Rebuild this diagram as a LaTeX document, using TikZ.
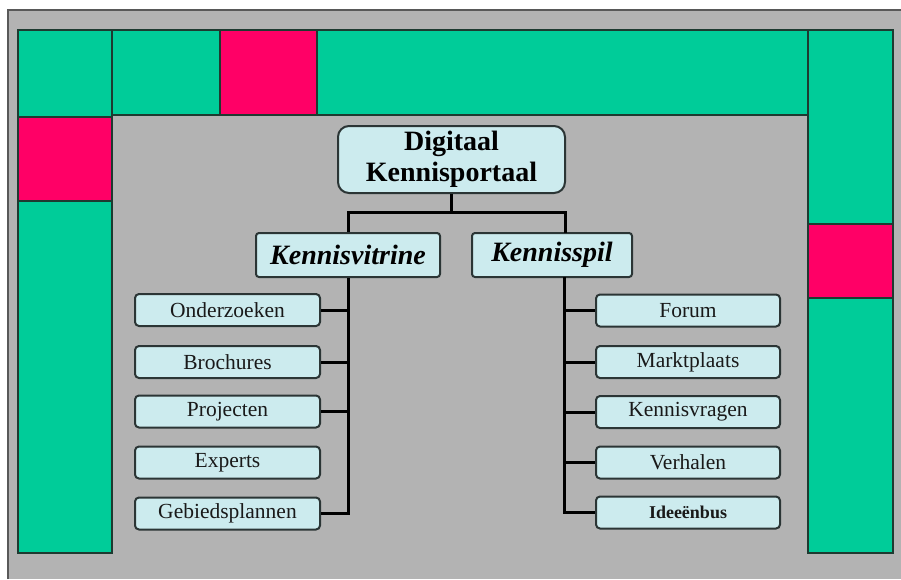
\documentclass[tikz,border=0pt]{standalone}
\usepackage{fontspec}
\setmainfont{Liberation Serif}
\definecolor{bggray}{HTML}{B3B3B3}
\definecolor{tgreen}{HTML}{00CC99}
\definecolor{tpink}{HTML}{FF0066}
\definecolor{boxfill}{HTML}{CCEBEE}
\definecolor{boxline}{HTML}{2B3535}
\definecolor{panelline}{HTML}{1E3A30}
\begin{document}
\begin{tikzpicture}[x=1pt,y=-1pt,
  panel/.style={draw=panelline,line width=1.4pt},
  leaf/.style={draw=boxline,fill=boxfill,line width=2pt,rounded corners=4pt,
    minimum height=32pt,inner sep=0pt,font=\fontsize{21.5}{23}\selectfont,text=black!90},
  lleaf/.style={leaf,minimum width=185pt},
  rleaf/.style={leaf,minimum width=184pt},
  mid/.style={draw=boxline,fill=boxfill,line width=2pt,rounded corners=3pt,
    minimum height=44pt,inner sep=0pt,font=\fontsize{28}{30}\selectfont\bfseries\itshape},
  conn/.style={draw=black,line width=3pt}]
\useasboundingbox (0,0) rectangle (901,579);
% background
\fill[white] (0,0) rectangle (901,579);
\fill[bggray] (8,10) rectangle (901,579);
\draw[black!65,line width=2pt] (8,579) -- (8,10) -- (901,10);
% panels
\fill[tgreen] (18,30) rectangle (112,553);
\fill[tpink] (18,117) rectangle (112,201);
\draw[panel] (18,30) rectangle (112,553);
\draw[panel] (18,117) -- (112,117) (18,201) -- (112,201);
\fill[tgreen] (112,30) rectangle (808,115);
\fill[tpink] (220,30) rectangle (317,115);
\draw[panel] (112,30) rectangle (808,115);
\draw[panel] (220,30) -- (220,115) (317,30) -- (317,115);
\fill[tgreen] (808,30) rectangle (893,553);
\fill[tpink] (808,224) rectangle (893,298);
\draw[panel] (808,30) rectangle (893,553);
\draw[panel] (808,224) -- (893,224) (808,298) -- (893,298);
% nodes
\node[draw=boxline,fill=boxfill,line width=2pt,rounded corners=11pt,
  minimum width=227pt,minimum height=67pt,inner sep=0pt,align=center,
  font=\fontsize{28}{31}\selectfont\bfseries] (title) at (451.5,159.5) {Digitaal\\Kennisportaal};
\node[mid,minimum width=184pt] (kv) at (348,255) {Kennisvitrine};
\node[mid,minimum width=160pt] (ks) at (552,255) {Kennisspil};
\node[lleaf] (on) at (227.5,310) {Onderzoeken};
\node[lleaf] (br) at (227.5,362) {Brochures};
\node[lleaf] (pr) at (227.5,411.5) {Projecten};
\node[lleaf] (ex) at (227.5,462.5) {Experts};
\node[lleaf] (gp) at (227.5,513.5) {Gebiedsplannen};
\node[rleaf] (fo) at (688,310.5) {Forum};
\node[rleaf] (mp) at (688,362) {Marktplaats};
\node[rleaf] (kq) at (688,412) {Kennisvragen};
\node[rleaf] (vh) at (688,462.5) {Verhalen};
\node[rleaf,font=\fontsize{18}{20}\selectfont\bfseries] (ib) at (688,512.5) {Ideeënbus};
% connectors
\coordinate (jt) at (451.5,212);
\coordinate (ksin) at (565,233);
\coordinate (ksout) at (564,277);
\draw[conn] (title.south) -- (jt);
\draw[conn] (kv.north) |- (jt) -| (ksin);
\draw[conn] (kv.south) |- (gp.east);
\draw[conn] (on.east) -- (on.east -| kv.south);
\draw[conn] (br.east) -- (br.east -| kv.south);
\draw[conn] (pr.east) -- (pr.east -| kv.south);
\draw[conn] (ksout) |- (ib.west);
\draw[conn] (fo.west) -- (fo.west -| ksout);
\draw[conn] (mp.west) -- (mp.west -| ksout);
\draw[conn] (kq.west) -- (kq.west -| ksout);
\draw[conn] (vh.west) -- (vh.west -| ksout);
\end{tikzpicture}
\end{document}
